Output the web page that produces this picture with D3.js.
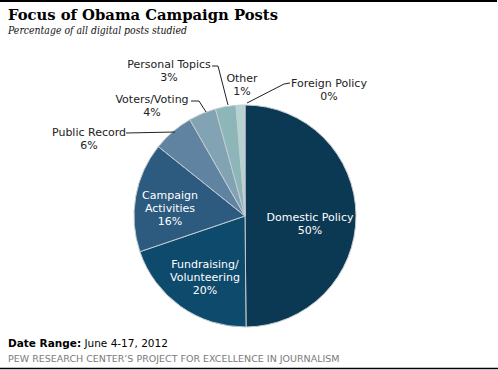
<!DOCTYPE html>
<html>
<head>
<meta charset="utf-8">
<script src="https://cdn.jsdelivr.net/npm/d3@7"></script>
<style>
  html, body { margin: 0; padding: 0; background: #fff; }
  svg { display: block; }
</style>
</head>
<body>
<svg id="chart" width="498" height="370"></svg>
<script>
// ---- data ----
const categories = ["Domestic Policy", "Fundraising/ Volunteering", "Campaign Activities", "Public Record", "Voters/Voting", "Personal Topics", "Other", "Foreign Policy"];
const values = [50, 20, 16, 6, 4, 3, 1, 0.3];
const valueLabels = ["50%", "20%", "16%", "6%", "4%", "3%", "1%", "0%"];
const colors = ["#0b3953", "#0e4a6b", "#2c5b7f", "#5f83a0", "#82a3b4", "#8db6b9", "#b4d4cf", "#c4cfcf"];

// ---- layout ----
const W = 498, H = 370;
const cx = 245, cy = 216, R = 111;
const svg = d3.select("#chart");

// frame lines
svg.append("line").attr("x1", 0).attr("x2", 497).attr("y1", 1).attr("y2", 1)
  .attr("stroke", "#000").attr("stroke-width", 2);
svg.append("line").attr("x1", 0).attr("x2", 498).attr("y1", 368.5).attr("y2", 368.5)
  .attr("stroke", "#000").attr("stroke-width", 1.5);

// title
const title = svg.append("text").attr("x", 8).attr("y", 20)
  .attr("font-family", "DejaVu Serif, Georgia, serif").attr("font-weight", "bold")
  .attr("font-size", 14.5).attr("fill", "#000").text("Focus of Obama Campaign Posts");
const tw = title.node().getComputedTextLength();
if (Math.abs(tw - 270) > 4) title.attr("textLength", 270).attr("lengthAdjust", "spacingAndGlyphs");

const sub = svg.append("text").attr("x", 8).attr("y", 34)
  .attr("font-family", "DejaVu Serif, Georgia, serif").attr("font-style", "italic")
  .attr("font-size", 10.5).attr("fill", "#111").text("Percentage of all digital posts studied");
const sw = sub.node().getComputedTextLength();
if (Math.abs(sw - 179) > 4) sub.attr("textLength", 179).attr("lengthAdjust", "spacingAndGlyphs");

// pie
const data = categories.map((c, i) => ({ name: c, value: values[i], label: valueLabels[i], color: colors[i] }));
const pie = d3.pie().value(d => d.value).sort(null).startAngle(0).endAngle(2 * Math.PI);
const arc = d3.arc().innerRadius(0).outerRadius(R);
const g = svg.append("g").attr("transform", `translate(${cx},${cy})`);
const arcs = pie(data);
g.selectAll("path").data(arcs).join("path")
  .attr("d", arc)
  .attr("fill", d => d.data.color)
  .attr("stroke", "#c3ccd2").attr("stroke-width", 1).attr("stroke-linejoin", "round");

// labels (positions relative to pie centre)
const labelFont = "DejaVu Sans, Verdana, sans-serif";
const labelLayout = {
  "Domestic Policy":          { x: 65,  y: 5,   lines: ["Domestic Policy"], color: "#fff" },
  "Fundraising/ Volunteering":{ x: -40, y: 52,  lines: ["Fundraising/", "Volunteering"], color: "#fff" },
  "Campaign Activities":      { x: -75, y: -17, lines: ["Campaign", "Activities"], color: "#fff" },
  "Public Record":            { x: -156,y: -80, lines: ["Public Record"], color: "#222" },
  "Voters/Voting":            { x: -93, y: -113,lines: ["Voters/Voting"], color: "#222" },
  "Personal Topics":          { x: -76, y: -148,lines: ["Personal Topics"], color: "#222" },
  "Other":                    { x: -3,  y: -134,lines: ["Other"], color: "#222" },
  "Foreign Policy":           { x: 84,  y: -129,lines: ["Foreign Policy"], color: "#222" }
};
const lh = 13.2;
data.forEach(d => {
  const L = labelLayout[d.name];
  const t = g.append("text").attr("text-anchor", "middle")
    .attr("font-family", labelFont).attr("font-size", 11).attr("fill", L.color);
  const lines = L.lines.concat([d.label]);
  lines.forEach((ln, i) => {
    t.append("tspan").attr("x", L.x).attr("y", L.y + i * lh).text(ln);
  });
});

// leader lines (relative to centre), pointing into their slices
const leaders = [
  { pts: [[-119, -83], [-70, -84]] },
  { pts: [[-54, -115], [-46, -115], [-39, -104]] },
  { pts: [[-33, -150], [-27, -150], [-17, -111]] },
  { pts: [[45, -133], [39, -132], [2, -113]] }
];
leaders.forEach(l => {
  g.append("path").attr("d", d3.line()(l.pts))
    .attr("fill", "none").attr("stroke", "#222").attr("stroke-width", 1);
});

// footer
const f1 = svg.append("text").attr("x", 8).attr("y", 347)
  .attr("font-family", labelFont).attr("font-size", 10.5).attr("fill", "#000");
f1.append("tspan").attr("font-weight", "bold").text("Date Range:");
f1.append("tspan").text(" June 4-17, 2012");

const f2 = svg.append("text").attr("x", 8).attr("y", 362)
  .attr("font-family", labelFont).attr("font-size", 9.5).attr("fill", "#7a7a7a")
  .text("PEW RESEARCH CENTER\u2019S PROJECT FOR EXCELLENCE IN JOURNALISM");
const fw = f2.node().getComputedTextLength();
if (Math.abs(fw - 331) > 3) f2.attr("textLength", 331).attr("lengthAdjust", "spacingAndGlyphs");
</script>
</body>
</html>
